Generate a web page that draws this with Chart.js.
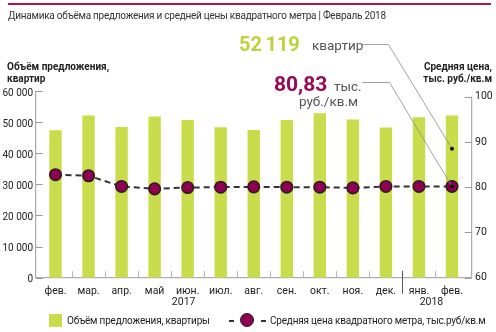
<!DOCTYPE html>
<html>
<head>
<meta charset="utf-8">
<script src="https://cdn.jsdelivr.net/npm/chart.js@4.4.1/dist/chart.umd.min.js"></script>
<style>
    body { margin: 0; background: #fff; font-family: Roboto, sans-serif; }
    #wrap { position: relative; width: 496px; height: 332px; overflow: hidden; }
    canvas { position: absolute; left: 0; top: 0; }
    .t { position: absolute; white-space: nowrap; color: #333; line-height: 1; }
    .b { font-weight: bold; color: #222; }
    .lg { font-size: 10px; letter-spacing: -0.2px; color: #222; }
</style>
</head>
<body>
<div id="wrap">
    <canvas id="chart" width="496" height="332"></canvas>
    <div class="t" style="left:8px;top:3px;width:483px;height:2px;background:#a8175a"></div>
    <div class="t" style="left:8px;top:11px;font-size:10px;letter-spacing:-0.25px">Динамика объёма предложения и средней цены квадратного метра | Февраль 2018</div>

    <div class="t b" style="left:7px;top:61px;font-size:10px;line-height:12px">Объём предложения,<br>квартир</div>
    <div class="t b" style="right:4px;top:61px;font-size:10px;line-height:12px;text-align:right">Средняя цена,<br>тыс. руб./кв.м</div>

    <div class="t" style="left:239px;top:34px;font-size:20px;font-weight:bold;color:#bcd33c;word-spacing:-1.5px">52 119</div>
    <div class="t" style="left:312px;top:39px;font-size:13.5px;color:#555">квартир</div>
    <div class="t" style="left:274px;top:74px;font-size:21px;font-weight:bold;color:#990a55">80,83</div>
    <div class="t" style="left:334px;top:80px;font-size:13.5px;color:#555">тыс.</div>
    <div class="t" style="right:138px;top:95px;font-size:13.5px;color:#555">руб./кв.м</div>

    <div class="t" style="left:49px;top:314px;width:13px;height:13px;background:#c9dc4b"></div>
    <div class="t lg" style="left:67px;top:316px">Объём предложения, квартиры</div>
    <div class="t" style="left:229px;top:320px;width:5px;height:2px;background:#333"></div>
    <div class="t" style="left:240px;top:313px;width:12px;height:12px;border-radius:50%;background:#8e0152;border:1.5px solid #2b1b22"></div>
    <div class="t" style="left:261px;top:320px;width:5px;height:2px;background:#333"></div>
    <div class="t lg" style="left:270px;top:316px">Средняя цена квадратного метра, тыс.руб/кв.м</div>
</div>
<script>
// data
const months = ['фев.', 'мар.', 'апр.', 'май', 'июн.', 'июл.', 'авг.', 'сен.', 'окт.', 'ноя.', 'дек.', 'янв.', 'фев.'];
const supply = [47370, 52100, 48430, 51800, 50700, 48330, 47460, 50700, 52860, 50820, 48240, 51570, 52119];
const price = [82.76, 82.53, 80.16, 79.64, 79.93, 80.0, 80.08, 80.0, 80.0, 79.85, 80.16, 80.16, 80.16];
const leftTicks = [0, 10000, 20000, 30000, 40000, 50000, 60000];
const rightTicks = [60, 70, 80, 90, 100];
const years = [{ text: '2017', at: 4 }, { text: '2018', at: 11.5 }];
const volumeMarker = 88.5;   // where the "52 119" leader line lands, right axis units

function spaced(v) {
    return String(v).replace(/\B(?=(\d{3})+(?!\d))/g, ' ');
}

// axis lines, inward ticks, month separators, years and leader lines
const decor = {
    id: 'decor',
    beforeDatasetsDraw(chart) {
        const ctx = chart.ctx, a = chart.chartArea;
        const xs = chart.scales.x, yl = chart.scales.yl, yr = chart.scales.yr;
        const xl = a.left - 3.3, xr = a.right + 3.2;
        ctx.save();
        ctx.strokeStyle = '#9a9a9a';
        ctx.lineWidth = 1;
        ctx.beginPath();
        ctx.moveTo(xl, a.top); ctx.lineTo(xl, a.bottom);
        ctx.moveTo(xl, a.bottom); ctx.lineTo(xr, a.bottom);
        ctx.moveTo(xr, yr.getPixelForValue(100)); ctx.lineTo(xr, a.bottom);
        leftTicks.forEach(v => {
            const y = Math.round(yl.getPixelForValue(v)) + 0.5;
            ctx.moveTo(xl, y); ctx.lineTo(xl + 7, y);
        });
        rightTicks.forEach(v => {
            const y = Math.round(yr.getPixelForValue(v)) + 0.5;
            ctx.moveTo(xr - 7, y); ctx.lineTo(xr, y);
        });
        ctx.stroke();

        ctx.strokeStyle = '#b5b5b5';
        ctx.beginPath();
        for (let i = 0; i < months.length - 1; i++) {
            if (i === 10) continue;
            const x = Math.round((xs.getPixelForValue(i) + xs.getPixelForValue(i + 1)) / 2) + 0.5;
            ctx.moveTo(x, a.bottom - 6.5); ctx.lineTo(x, a.bottom);
        }
        ctx.stroke();
        // year break between dec and jan
        const xb = Math.round((xs.getPixelForValue(10) + xs.getPixelForValue(11)) / 2) + 0.5;
        ctx.strokeStyle = '#555';
        ctx.beginPath();
        ctx.moveTo(xb, a.bottom - 7); ctx.lineTo(xb, a.bottom + 16);
        ctx.stroke();

        ctx.fillStyle = '#222';
        ctx.font = '10.5px Roboto';
        ctx.textAlign = 'center';
        ctx.textBaseline = 'middle';
        years.forEach(yr2 => {
            const i = Math.floor(yr2.at), f = yr2.at - i;
            let x = xs.getPixelForValue(i);
            if (f) x += f * (xs.getPixelForValue(i + 1) - x);
            ctx.fillText(yr2.text, x - 4, a.bottom + 25);
        });
        ctx.restore();
    },
    afterDatasetsDraw(chart) {
        const ctx = chart.ctx;
        const xs = chart.scales.x, yr = chart.scales.yr;
        const last = months.length - 1;
        const ex = xs.getPixelForValue(last);
        const e1 = yr.getPixelForValue(volumeMarker);
        const e2 = yr.getPixelForValue(price[last]);
        ctx.save();
        ctx.strokeStyle = '#8a8a8a';
        ctx.lineWidth = 0.8;
        ctx.beginPath();
        ctx.moveTo(362, 44.5); ctx.lineTo(388.5, 44.5); ctx.lineTo(ex, e1);
        ctx.moveTo(362, 82.5); ctx.lineTo(389.5, 82.5); ctx.lineTo(ex, e2);
        ctx.stroke();
        ctx.fillStyle = '#111';
        [e1, e2].forEach(y => {
            ctx.beginPath();
            ctx.arc(ex, y, 2, 0, Math.PI * 2);
            ctx.fill();
        });
        ctx.restore();
    }
};

const ctx = document.getElementById('chart').getContext('2d');
const chart = new Chart(ctx, {
    data: {
        labels: months,
        datasets: [{
            type: 'line',
            label: 'Средняя цена квадратного метра, тыс.руб/кв.м',
            data: price,
            yAxisID: 'yr',
            order: 0,
            borderColor: '#333',
            borderWidth: 2,
            borderDash: [6, 4],
            pointRadius: 5.8,
            pointBackgroundColor: '#8e0152',
            pointBorderColor: '#2b1b22',
            pointBorderWidth: 1.5,
            tension: 0
        }, {
            type: 'bar',
            label: 'Объём предложения, квартиры',
            data: supply,
            yAxisID: 'yl',
            order: 1,
            backgroundColor: '#c9dc4b',
            barPercentage: 0.375,
            categoryPercentage: 1
        }]
    },
    options: {
        responsive: false,
        animation: false,
        layout: { padding: { top: 91, left: 0, right: 0, bottom: 0 } },
        plugins: { legend: { display: false }, tooltip: { enabled: false } },
        scales: {
            x: {
                offset: true,
                grid: { display: false, drawTicks: false },
                border: { display: false },
                ticks: { color: '#222', font: { family: 'Roboto', size: 10.5 }, padding: 7, maxRotation: 0, autoSkip: false },
                afterFit(s) { s.height = 332 - 277.7; }
            },
            yl: {
                position: 'left',
                min: 0,
                max: 60000,
                afterBuildTicks(s) { s.ticks = leftTicks.map(v => ({ value: v })); },
                grid: { display: false, drawTicks: false },
                border: { display: false },
                ticks: { color: '#222', font: { family: 'Roboto', size: 10 }, padding: 6, labelOffset: 2, callback: v => spaced(v) },
                afterFit(s) { s.width = 39; }
            },
            yr: {
                position: 'right',
                min: 60,
                max: 101.26,
                afterBuildTicks(s) { s.ticks = rightTicks.map(v => ({ value: v })); },
                grid: { display: false, drawTicks: false },
                border: { display: false },
                ticks: { color: '#222', font: { family: 'Roboto', size: 10.5 }, padding: 6.5 },
                afterFit(s) { s.width = 496 - 468.5; }
            }
        }
    },
    plugins: [decor]
});
</script>
</body>
</html>
